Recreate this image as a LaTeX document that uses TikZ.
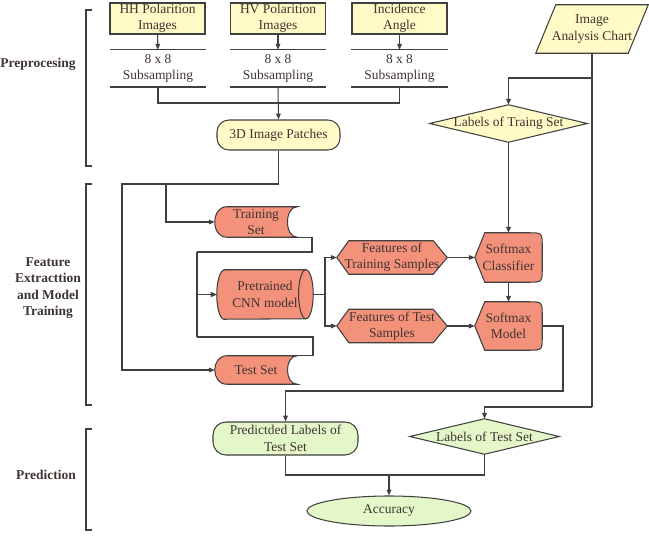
\documentclass[tikz,border=0pt]{standalone}
\usepackage{fontspec}
\setmainfont{Liberation Serif}
\usetikzlibrary{shapes.geometric,arrows.meta,backgrounds,calc}
\definecolor{boxyellow}{RGB}{255,250,198}
\definecolor{boxsalmon}{RGB}{243,145,122}
\definecolor{boxgreen}{RGB}{227,247,200}
\definecolor{linegray}{RGB}{64,64,64}
\definecolor{textgray}{RGB}{62,52,50}

\tikzset{
  every node/.style={font=\fontsize{11.5}{14}\selectfont, text=textgray, align=center, inner sep=0pt},
  arr/.style={-{Triangle[length=5pt,width=4pt]}},
  conn/.style={draw=linegray, line width=0.9pt},
  shapeline/.style={draw=linegray, line width=0.9pt},
  inbox/.style={shapeline, fill=boxyellow, minimum width=2.85cm, minimum height=0.93cm},
  subbox/.style={minimum width=2.88cm, minimum height=1.11cm},
  roundbox/.style={shapeline, rounded corners=0.36cm},
  grouplabel/.style={font=\fontsize{11.5}{14}\selectfont\bfseries},
}

% outlines drawn round invisible nodes
\newcommand{\slantbox}[1]{\draw[shapeline, fill=boxyellow] ([xshift=0.3cm]#1.north west) -- ([xshift=0.3cm]#1.north east) -- ([xshift=-0.3cm]#1.south east) -- ([xshift=-0.3cm]#1.south west) -- cycle;}
\newcommand{\diamondbox}[2]{\draw[shapeline, fill=#2] (#1.north) -- (#1.east) -- (#1.south) -- (#1.west) -- cycle;}
\newcommand{\hexbox}[1]{\draw[shapeline, fill=boxsalmon] (#1.west) -- ([xshift=0.36cm]#1.north west) -- ([xshift=-0.42cm]#1.north east) -- (#1.east) -- ([xshift=-0.42cm]#1.south east) -- ([xshift=0.36cm]#1.south west) -- cycle;}
\newcommand{\displaybox}[1]{\draw[shapeline, fill=boxsalmon] (#1.west) -- ([xshift=0.3cm]#1.north west) -- ([xshift=-0.42cm]#1.north east) .. controls (#1.north east) .. ([yshift=-0.42cm]#1.north east) -- ([yshift=0.42cm]#1.south east) .. controls (#1.south east) .. ([xshift=-0.42cm]#1.south east) -- ([xshift=0.3cm]#1.south west) -- cycle;}
\newcommand{\storebox}[1]{\draw[shapeline, fill=boxsalmon] ([xshift=0.36cm]#1.north west) -- (#1.north east) .. controls ([xshift=-0.39cm]#1.north east) and ([xshift=-0.39cm]#1.south east) .. (#1.south east) -- ([xshift=0.36cm]#1.south west) .. controls ([xshift=-0.12cm]#1.south west) and ([xshift=-0.12cm]#1.north west) .. ([xshift=0.36cm]#1.north west) -- cycle;}
\newcommand{\drumbox}[1]{%
  \draw[shapeline, fill=boxsalmon] ([xshift=0.22cm]#1.north west) -- ([xshift=-0.22cm]#1.north east) arc[start angle=90, end angle=-90, x radius=0.22cm, y radius=0.735cm] -- ([xshift=0.22cm]#1.south west) arc[start angle=270, end angle=90, x radius=0.22cm, y radius=0.735cm] -- cycle;
  \draw[shapeline] ([xshift=-0.22cm]#1.north east) arc[start angle=90, end angle=270, x radius=0.22cm, y radius=0.735cm];}

\begin{document}
\begin{tikzpicture}[x=0.03cm, y=-0.03cm]
    \useasboundingbox (0,0) rectangle (649,537);

    % Preprocessing
    \node[inbox] (hh) at (157.5,18.5) {HH Polarition\\Images};
    \node[inbox] (hv) at (278,18.5) {HV Polarition\\Images};
    \node[inbox] (inc) at (399.5,18.5) {Incidence\\Angle};
    \node[subbox] (hhs) at (158,68.5) {8 x 8\\Subsampling};
    \node[subbox] (hvs) at (278,68.5) {8 x 8\\Subsampling};
    \node[subbox] (incs) at (399.5,68.5) {8 x 8\\Subsampling};
    \node[roundbox, fill=boxyellow, minimum width=3.69cm, minimum height=0.9cm] (patch) at (278.5,135) {3D Image Patches};
    \node[minimum width=2.76cm, minimum height=1.44cm] (chart) at (592,29) {Image\\Analysis Chart};
    \node[minimum width=4.71cm, minimum height=1.11cm] (ltrain) at (508.5,123.5) {Labels of Traing Set};

    % Feature extraction
    \node[minimum width=2.46cm, minimum height=0.9cm] (trset) at (256,222) {Training\\Set};
    \node[minimum width=2.46cm, minimum height=0.84cm] (teset) at (256,370) {Test Set};
    \node[minimum width=2.88cm, minimum height=1.47cm] (cnn) at (265,294.5) {Pretrained\\CNN model};
    \node[minimum width=3.3cm, minimum height=0.99cm] (fts) at (392,257.5) {Features of\\Training Samples};
    \node[minimum width=3.3cm, minimum height=0.99cm] (fte) at (392,326) {Features of Test\\Samples};
    \node[minimum width=2.01cm, minimum height=1.47cm] (softc) at (508.5,257.5) {Softmax\\Classifier};
    \node[minimum width=2.01cm, minimum height=1.44cm] (softm) at (508.5,326) {Softmax\\Model};

    % Prediction
    \node[roundbox, fill=boxgreen, minimum width=4.35cm, minimum height=0.99cm, rounded corners=0.39cm] (pred) at (285.5,438.5) {Predictded Labels of\\Test Set};
    \node[minimum width=4.47cm, minimum height=1.05cm] (ltest) at (484.5,436.5) {Labels of Test Set};
    \node[ellipse, shapeline, fill=boxgreen, minimum width=4.92cm, minimum height=0.9cm] (acc) at (389,511) {Accuracy};

    \begin{pgfonlayer}{background}
        \slantbox{chart}
        \diamondbox{ltrain}{boxyellow}
        \diamondbox{ltest}{boxgreen}
        \storebox{trset}
        \storebox{teset}
        \drumbox{cnn}
        \hexbox{fts}
        \hexbox{fte}
        \displaybox{softc}
        \displaybox{softm}
    \end{pgfonlayer}

    \foreach \s in {hhs,hvs,incs}{
        \draw[shapeline] (\s.north west) -- (\s.north east);
        \draw[shapeline, line width=1.8pt] (\s.south west) -- (\s.south east);
    }

    % group labels and brackets
    \node[grouplabel] (prelab) at (38,64) {Preprocesing};
    \node[grouplabel] (featlab) at (48,288) {Feature\\Extracttion\\and Model\\Training};
    \node[grouplabel] (predlab) at (46,475) {Prediction};
    \draw[shapeline] (92,10) -- (86,10) -- (86,166) -- (92,166);
    \draw[shapeline] (92,184) -- (86,184) -- (86,405) -- (92,405);
    \draw[shapeline] (92,429) -- (86,429) -- (86,530) -- (92,530);

    % connectors
    \foreach \a/\b in {hh/hhs,hv/hvs,inc/incs}
        \draw[conn,arr] (\a) -- (\b);
    \coordinate (subjoin) at (278,103);
    \draw[conn] (hhs.south) |- (subjoin);
    \draw[conn] (incs.south) |- (subjoin);
    \draw[conn,arr] (hvs.south) -- (patch.north);

    \coordinate (chartsplit) at (592,78);
    \coordinate (chartdown) at (592,407);
    \draw[conn] (chart.south) -- (chartdown);
    \draw[conn,arr] (chartsplit) -| (ltrain.north);
    \draw[conn,arr] (chartdown) -| (ltest.north);
    \draw[conn,arr] (ltrain.south) -- (softc.north);
    \draw[conn,arr] (softc.south) -- (softm.north);

    \coordinate (patchleft) at (122,184);
    \coordinate (patchbranch) at (166,184);
    \draw[conn,arr] (patch.south) |- (patchleft) |- (teset.west);
    \draw[conn,arr] (patchbranch) |- (trset.west);

    \coordinate (trloop) at (312,252);
    \coordinate (trloopl) at (197,252);
    \coordinate (teloop) at (313,337);
    \coordinate (teloopl) at (197,337);
    \draw[conn] (trset.south east) -| (trloop) -- (trloopl);
    \draw[conn,arr] (trloopl) |- (cnn.west);
    \draw[conn] (teset.north east) -| (teloop) -- (teloopl);
    \draw[conn,arr] (teloopl) |- (cnn.west);

    \coordinate (cnnsplit) at (325,294.5);
    \draw[conn] (cnn.east) -- (cnnsplit);
    \draw[conn,arr] (cnnsplit) |- (fts.west);
    \draw[conn,arr] (cnnsplit) |- (fte.west);
    \draw[conn,arr] (fts.east) -- (softc.west);
    \draw[conn,arr] (fte.east) -- (softm.west);

    \coordinate (smright) at (563,391);
    \draw[conn,arr] (softm.east) -| (smright) -| (pred.north);
    \coordinate (accjoin) at (389,475);
    \draw[conn] (pred.south) |- (accjoin);
    \draw[conn] (ltest.south) |- (accjoin);
    \draw[conn,arr] (accjoin) -- (acc.north);
\end{tikzpicture}
\end{document}
